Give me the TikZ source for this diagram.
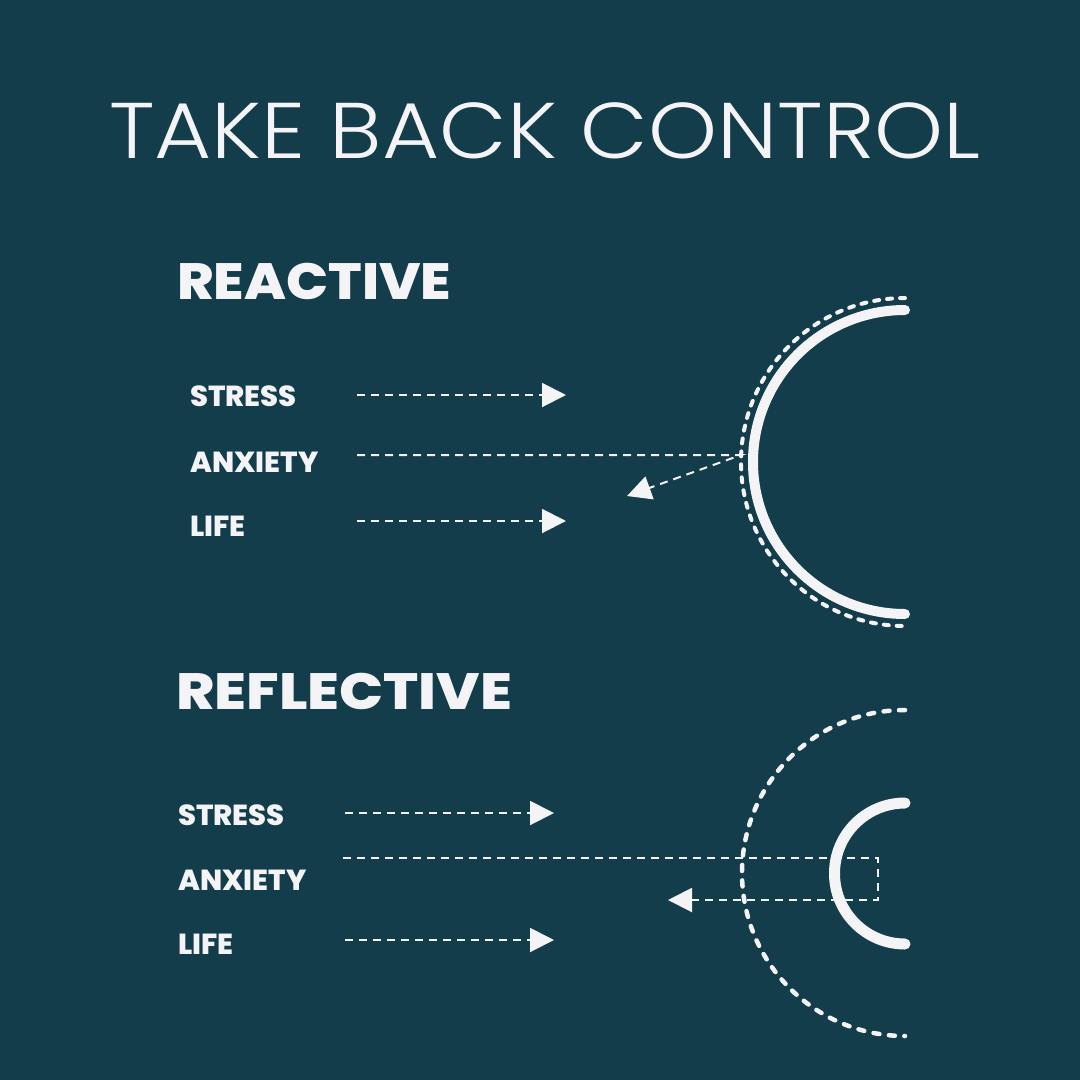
\documentclass[tikz,border=0pt]{standalone}
\usepackage{fontspec}
\setmainfont{Poppins}
\newfontfamily\titlefont{Poppins Light}
\newfontfamily\headfont{Poppins ExtraBold}
\newfontfamily\labfont{Poppins ExtraBold}
\usetikzlibrary{arrows.meta}
\definecolor{bg}{HTML}{133D4B}
\definecolor{fg}{HTML}{F4F4F6}
\begin{document}
\begin{tikzpicture}[x=1pt,y=-1pt,
  titletxt/.style={font=\titlefont\fontsize{79}{79}\selectfont, text=fg, inner sep=0pt, anchor=base},
  headtxt/.style={font=\headfont\fontsize{51}{51}\selectfont, text=fg, inner sep=0pt, anchor=base west},
  labtxt/.style={font=\labfont\fontsize{29}{29}\selectfont, text=fg, inner sep=0pt, anchor=base west},
  flow/.style={draw=fg, line width=2pt, dash pattern=on 8pt off 6pt},
  tipped/.style={-{Triangle[length=24pt,width=24pt]}},
  shield/.style={draw=fg, line width=10pt, line cap=round},
  halo/.style={draw=fg, line width=4pt, line cap=round, dash pattern=on 5pt off 8pt}]
\fill[bg] (0,0) rectangle (1080,1080);
\useasboundingbox (0,0) rectangle (1080,1080);

\node[titletxt] (title) at (545,158) {\scalebox{1.11}[1]{TAKE BACK CONTROL}};

% Reactive
\node[headtxt] (reactive) at (177,299) {\scalebox{1.09}[1]{REACTIVE}};
\node[labtxt] (s1) at (190,406) {STRESS};
\node[labtxt] (a1) at (190,472) {ANXIETY};
\node[labtxt] (l1) at (190,536) {LIFE};

\coordinate (s1a) at (357,395); \coordinate (s1b) at (566,395);
\coordinate (l1a) at (357,521); \coordinate (l1b) at (566,521);
\coordinate (a1a) at (357,455); \coordinate (a1h) at (741,455); \coordinate (a1b) at (627,496);
\draw[flow,tipped] (s1a) -- (s1b);
\draw[flow,tipped] (l1a) -- (l1b);
\draw[flow,tipped] (a1a) -- (a1h) -- (a1b);

\coordinate (arc1top) at (905,310);
\coordinate (halo1top) at (905,298);
\draw[shield] (arc1top) arc[start angle=90,end angle=270,radius=152pt];
\draw[halo] (halo1top) arc[start angle=90,end angle=270,radius=164pt];

% Reflective
\node[headtxt] (reflective) at (176,709) {\scalebox{1.14}[1]{REFLECTIVE}};
\node[labtxt] (s2) at (178,825) {STRESS};
\node[labtxt] (a2) at (178,890) {ANXIETY};
\node[labtxt] (l2) at (178,954) {LIFE};

\coordinate (s2a) at (345,813); \coordinate (s2b) at (554,813);
\coordinate (l2a) at (345,940); \coordinate (l2b) at (554,940);
\draw[flow,tipped] (s2a) -- (s2b);
\draw[flow,tipped] (l2a) -- (l2b);

\coordinate (halo2top) at (905,710);
\coordinate (arc2top) at (905,803);
\draw[halo, line width=4.5pt, dash pattern=on 6pt off 9.5pt] (halo2top) arc[start angle=90,end angle=270,radius=163pt];
\draw[shield, line width=11pt] (arc2top) arc[start angle=90,end angle=270,radius=70.5pt];

\coordinate (a2a) at (343,858); \coordinate (a2r) at (878,858);
\coordinate (a2d) at (878,900); \coordinate (a2b) at (668,900);
\draw[flow,tipped] (a2a) -- (a2r) -- (a2d) -- (a2b);
\end{tikzpicture}
\end{document}
